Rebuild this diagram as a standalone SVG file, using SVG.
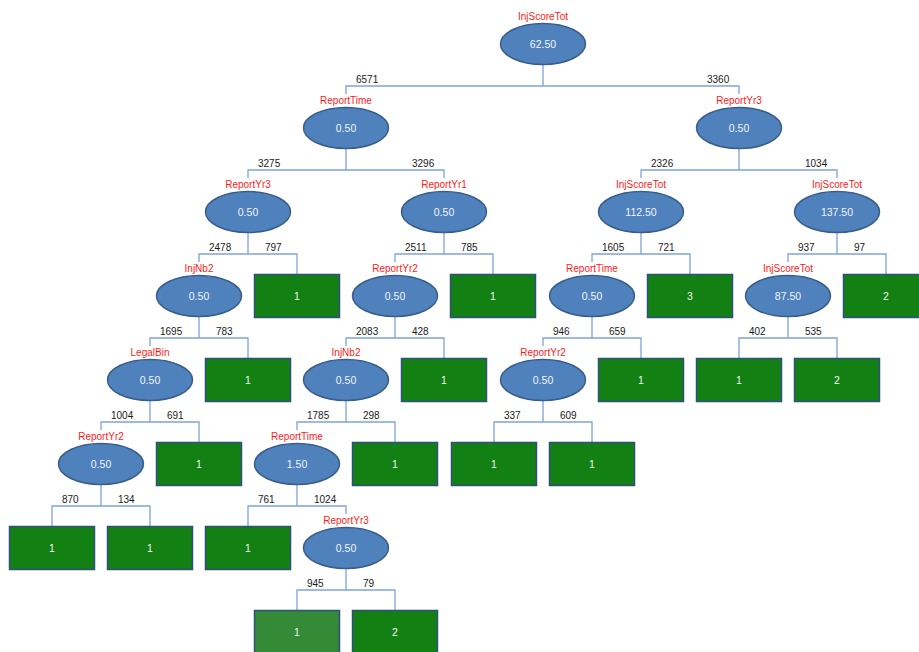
<svg xmlns="http://www.w3.org/2000/svg" width="919" height="652" viewBox="0 0 919 652">
<style>
text{font-family:"Liberation Sans",Arial,sans-serif;}
.e{fill:#4F81BD;stroke:#385D8A;stroke-width:1.5;}
.b{fill:#138013;stroke:#2F4F80;stroke-width:1.5;}
.b2{fill:#348A36;stroke:#2F4F80;stroke-width:1.5;}
.lbl{fill:#FF1A1A;font-size:10px;text-anchor:middle;}
.v{fill:#F2F5FA;font-size:10.5px;text-anchor:middle;}
.c{fill:none;stroke:#7FA2DA;stroke-width:1.3;}
.n{fill:#1a1a1a;font-size:10px;}
</style>
<rect width="919" height="652" fill="#FFFFFF"/>
<g id="connectors">
<path class="c" d="M543,64.5V86M346,94V86H739V94"/>
<path class="c" d="M346,148.5V170M248,178V170H444V178"/>
<path class="c" d="M739,148.5V170M641,178V170H837V178"/>
<path class="c" d="M248,232.5V254M199,262V254H297V274.5"/>
<path class="c" d="M444,232.5V254M395,262V254H493V274.5"/>
<path class="c" d="M641,232.5V254M592,262V254H690V274.5"/>
<path class="c" d="M837,232.5V254M788,262V254H886V274.5"/>
<path class="c" d="M199,316.5V338M150,346V338H248V358.5"/>
<path class="c" d="M395,316.5V338M346,346V338H444V358.5"/>
<path class="c" d="M592,316.5V338M543,346V338H641V358.5"/>
<path class="c" d="M788,316.5V338M739,358.5V338H837V358.5"/>
<path class="c" d="M150,400.5V422M101,430V422H199V442.5"/>
<path class="c" d="M346,400.5V422M297,430V422H395V442.5"/>
<path class="c" d="M543,400.5V422M494,442.5V422H592V442.5"/>
<path class="c" d="M101,484.5V506M52,526.5V506H150V526.5"/>
<path class="c" d="M297,484.5V506M248,526.5V506H346V514"/>
<path class="c" d="M346,568.5V590M297,610.5V590H395V610.5"/>
<g class="n">
<text x="356" y="82.5">6571</text><text x="707" y="82.5">3360</text>
<text x="258" y="166.5">3275</text><text x="412" y="166.5">3296</text>
<text x="651" y="166.5">2326</text><text x="805" y="166.5">1034</text>
<text x="209" y="250.5">2478</text><text x="265" y="250.5">797</text>
<text x="405" y="250.5">2511</text><text x="461" y="250.5">785</text>
<text x="602" y="250.5">1605</text><text x="658" y="250.5">721</text>
<text x="798" y="250.5">937</text><text x="854" y="250.5">97</text>
<text x="160" y="334.5">1695</text><text x="216" y="334.5">783</text>
<text x="356" y="334.5">2083</text><text x="412" y="334.5">428</text>
<text x="553" y="334.5">946</text><text x="609" y="334.5">659</text>
<text x="749" y="334.5">402</text><text x="805" y="334.5">535</text>
<text x="111" y="418.5">1004</text><text x="167" y="418.5">691</text>
<text x="307" y="418.5">1785</text><text x="363" y="418.5">298</text>
<text x="504" y="418.5">337</text><text x="560" y="418.5">609</text>
<text x="62" y="502.5">870</text><text x="118" y="502.5">134</text>
<text x="258" y="502.5">761</text><text x="314" y="502.5">1024</text>
<text x="307" y="586.5">945</text><text x="363" y="586.5">79</text>
</g>
</g>
<g id="n0"><text class="lbl" x="543" y="19.5">InjScoreTot</text><ellipse class="e" cx="543" cy="44" rx="42.5" ry="20.5"/><text class="v" x="543" y="47.8">62.50</text></g>
<g id="n1"><text class="lbl" x="346" y="103.5">ReportTime</text><ellipse class="e" cx="346" cy="128" rx="42.5" ry="20.5"/><text class="v" x="346" y="131.8">0.50</text></g>
<g id="n2"><text class="lbl" x="739" y="103.5">ReportYr3</text><ellipse class="e" cx="739" cy="128" rx="42.5" ry="20.5"/><text class="v" x="739" y="131.8">0.50</text></g>
<g id="n3"><text class="lbl" x="248" y="187.5">ReportYr3</text><ellipse class="e" cx="248" cy="212" rx="42.5" ry="20.5"/><text class="v" x="248" y="215.8">0.50</text></g>
<g id="n4"><text class="lbl" x="444" y="187.5">ReportYr1</text><ellipse class="e" cx="444" cy="212" rx="42.5" ry="20.5"/><text class="v" x="444" y="215.8">0.50</text></g>
<g id="n5"><text class="lbl" x="641" y="187.5">InjScoreTot</text><ellipse class="e" cx="641" cy="212" rx="42.5" ry="20.5"/><text class="v" x="641" y="215.8">112.50</text></g>
<g id="n6"><text class="lbl" x="837" y="187.5">InjScoreTot</text><ellipse class="e" cx="837" cy="212" rx="42.5" ry="20.5"/><text class="v" x="837" y="215.8">137.50</text></g>
<g id="n7"><text class="lbl" x="199" y="271.5">InjNb2</text><ellipse class="e" cx="199" cy="296" rx="42.5" ry="20.5"/><text class="v" x="199" y="299.8">0.50</text></g>
<g id="n8"><rect class="b" x="254.5" y="274.5" width="85" height="43"/><text class="v" x="297" y="299.8">1</text></g>
<g id="n9"><text class="lbl" x="395" y="271.5">ReportYr2</text><ellipse class="e" cx="395" cy="296" rx="42.5" ry="20.5"/><text class="v" x="395" y="299.8">0.50</text></g>
<g id="n10"><rect class="b" x="450.5" y="274.5" width="85" height="43"/><text class="v" x="493" y="299.8">1</text></g>
<g id="n11"><text class="lbl" x="592" y="271.5">ReportTime</text><ellipse class="e" cx="592" cy="296" rx="42.5" ry="20.5"/><text class="v" x="592" y="299.8">0.50</text></g>
<g id="n12"><rect class="b" x="647.5" y="274.5" width="85" height="43"/><text class="v" x="690" y="299.8">3</text></g>
<g id="n13"><text class="lbl" x="788" y="271.5">InjScoreTot</text><ellipse class="e" cx="788" cy="296" rx="42.5" ry="20.5"/><text class="v" x="788" y="299.8">87.50</text></g>
<g id="n14"><rect class="b" x="843.5" y="274.5" width="85" height="43"/><text class="v" x="886" y="299.8">2</text></g>
<g id="n15"><text class="lbl" x="150" y="355.5">LegalBin</text><ellipse class="e" cx="150" cy="380" rx="42.5" ry="20.5"/><text class="v" x="150" y="383.8">0.50</text></g>
<g id="n16"><rect class="b" x="205.5" y="358.5" width="85" height="43"/><text class="v" x="248" y="383.8">1</text></g>
<g id="n17"><text class="lbl" x="346" y="355.5">InjNb2</text><ellipse class="e" cx="346" cy="380" rx="42.5" ry="20.5"/><text class="v" x="346" y="383.8">0.50</text></g>
<g id="n18"><rect class="b" x="401.5" y="358.5" width="85" height="43"/><text class="v" x="444" y="383.8">1</text></g>
<g id="n19"><text class="lbl" x="543" y="355.5">ReportYr2</text><ellipse class="e" cx="543" cy="380" rx="42.5" ry="20.5"/><text class="v" x="543" y="383.8">0.50</text></g>
<g id="n20"><rect class="b" x="598.5" y="358.5" width="85" height="43"/><text class="v" x="641" y="383.8">1</text></g>
<g id="n21"><rect class="b" x="696.5" y="358.5" width="85" height="43"/><text class="v" x="739" y="383.8">1</text></g>
<g id="n22"><rect class="b" x="794.5" y="358.5" width="85" height="43"/><text class="v" x="837" y="383.8">2</text></g>
<g id="n23"><text class="lbl" x="101" y="439.5">ReportYr2</text><ellipse class="e" cx="101" cy="464" rx="42.5" ry="20.5"/><text class="v" x="101" y="467.8">0.50</text></g>
<g id="n24"><rect class="b" x="156.5" y="442.5" width="85" height="43"/><text class="v" x="199" y="467.8">1</text></g>
<g id="n25"><text class="lbl" x="297" y="439.5">ReportTime</text><ellipse class="e" cx="297" cy="464" rx="42.5" ry="20.5"/><text class="v" x="297" y="467.8">1.50</text></g>
<g id="n26"><rect class="b" x="352.5" y="442.5" width="85" height="43"/><text class="v" x="395" y="467.8">1</text></g>
<g id="n27"><rect class="b" x="451.5" y="442.5" width="85" height="43"/><text class="v" x="494" y="467.8">1</text></g>
<g id="n28"><rect class="b" x="549.5" y="442.5" width="85" height="43"/><text class="v" x="592" y="467.8">1</text></g>
<g id="n29"><rect class="b" x="9.5" y="526.5" width="85" height="43"/><text class="v" x="52" y="551.8">1</text></g>
<g id="n30"><rect class="b" x="107.5" y="526.5" width="85" height="43"/><text class="v" x="150" y="551.8">1</text></g>
<g id="n31"><rect class="b" x="205.5" y="526.5" width="85" height="43"/><text class="v" x="248" y="551.8">1</text></g>
<g id="n32"><text class="lbl" x="346" y="523.5">ReportYr3</text><ellipse class="e" cx="346" cy="548" rx="42.5" ry="20.5"/><text class="v" x="346" y="551.8">0.50</text></g>
<g id="n33"><rect class="b2" x="254.5" y="610.5" width="85" height="43"/><text class="v" x="297" y="635.8">1</text></g>
<g id="n34"><rect class="b" x="352.5" y="610.5" width="85" height="43"/><text class="v" x="395" y="635.8">2</text></g>
</svg>
